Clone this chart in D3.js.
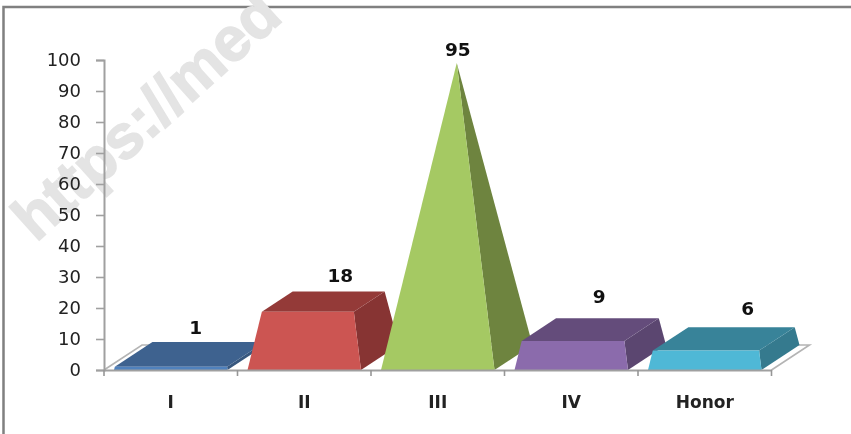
<!DOCTYPE html>
<html lang="en">
    <head>
        <meta charset="utf-8">
        <title>Grades</title>
        <script src="https://d3js.org/d3.v7.min.js"></script>
        <style>
            html, body { margin: 0; padding: 0; background: #fff; overflow: hidden; }
            svg { display: block; filter: blur(0.45px); }
            text { font-family: "DejaVu Sans", sans-serif; }
        </style>
    </head>
    <body>
        <script type="text/javascript">

            var categories = ["I", "II", "III", "IV", "Honor"];
            var values = [1, 18, 95, 9, 6];
            var yTicks = [0, 10, 20, 30, 40, 50, 60, 70, 80, 90, 100];

            var frontColors = ["#4f81bd", "#cc5552", "#a5c963", "#8b6bac", "#4fb8d6"];
            var topColors = ["#3e628f", "#943a38", "#a5c963", "#644c7b", "#388399"];
            var sideColors = ["#37577e", "#873433", "#6e843f", "#5b4670", "#357a8e"];

            // label nudges relative to the bar's centre / top
            var labelDx = [25, 36, 20, 28, 43];
            var labelDy = [-39, -39, -26, -46, -43];

            var width = 851, height = 434;
            var depthX = 38, depthY = -25;   // oblique projection of the floor depth
            var peak = d3.max(values);

            var svg = d3.select("body").append("svg")
                .attr("width", width)
                .attr("height", height);

            // frame, open on the right and at the bottom
            svg.append("path")
                .attr("d", "M3.5,434V7H851")
                .attr("fill", "none")
                .attr("stroke", "#808080")
                .attr("stroke-width", 2.5);

            var xScale = d3.scaleBand()
                .domain(categories)
                .range([104, 771.5])
                .paddingInner(0)
                .paddingOuter(0);

            var yScale = d3.scaleLinear()
                .domain([0, 100])
                .range([370, 60]);

            var barWidth = xScale.bandwidth() * 0.85;

            // floor
            var floorLeft = xScale.range()[0], floorRight = xScale.range()[1], floorY = yScale(0);
            svg.append("path")
                .attr("d", d3.line()([
                    [floorLeft, floorY],
                    [floorLeft + depthX, floorY + depthY],
                    [floorRight + depthX, floorY + depthY],
                    [floorRight, floorY]
                ]))
                .attr("fill", "none")
                .attr("stroke", "#b4b4b4")
                .attr("stroke-width", 1.6);

            // watermark goes under the marks
            svg.append("text")
                .attr("transform", "translate(36,243) rotate(-42)")
                .attr("font-size", 62)
                .attr("font-weight", "bold")
                .style("font-family", '"Liberation Sans", sans-serif')
                .attr("fill", "#e4e4e4")
                .attr("stroke", "#e4e4e4")
                .attr("stroke-width", 1.5)
                .text("https://med");

            // a bar is a pyramid to the largest value, cut off at its own value
            function project(cx, along, depth, v) {
                return [cx + along + depth * depthX, yScale(v) + depth * depthY];
            }

            var g = svg.append("g");

            categories.forEach(function(c, i) {
                var cx = xScale(c) + xScale.bandwidth() / 2;
                var v = values[i];
                var s = v / peak;
                var half = barWidth / 2, topHalf = half * (1 - s);
                var fb = [project(cx, -half, 0, 0), project(cx, half, 0, 0)];
                var bb = project(cx, half, 1, 0);
                var ft = [project(cx, -topHalf, s / 2, v), project(cx, topHalf, s / 2, v)];
                var bt = [project(cx, -topHalf, 1 - s / 2, v), project(cx, topHalf, 1 - s / 2, v)];

                g.append("path")
                    .attr("d", d3.line()([fb[1], bb, bt[1], ft[1]]) + "Z")
                    .attr("fill", sideColors[i]);
                g.append("path")
                    .attr("d", d3.line()([ft[0], ft[1], bt[1], bt[0]]) + "Z")
                    .attr("fill", topColors[i]);
                g.append("path")
                    .attr("d", d3.line()([fb[0], fb[1], ft[1], ft[0]]) + "Z")
                    .attr("fill", frontColors[i]);

                svg.append("text")
                    .attr("x", cx + labelDx[i])
                    .attr("y", yScale(v) + labelDy[i])
                    .attr("text-anchor", "middle")
                    .attr("dominant-baseline", "central")
                    .attr("font-size", 18.5)
                    .attr("font-weight", "bold")
                    .attr("fill", "#111")
                    .text(v);
            });

            // axes
            var yAxis = d3.axisLeft(yScale).tickValues(yTicks).tickSize(8).tickPadding(15);
            var yG = svg.append("g")
                .attr("transform", "translate(" + floorLeft + ",0)")
                .call(yAxis);

            var xAxis = d3.axisBottom(xScale).tickSize(0).tickPadding(26);
            var xG = svg.append("g")
                .attr("transform", "translate(0," + floorY + ")")
                .call(xAxis);

            xG.selectAll(".boundary")
                .data(d3.range(categories.length + 1))
                .enter().append("line")
                .attr("class", "boundary")
                .attr("x1", function(d) { return floorLeft + d * xScale.step(); })
                .attr("x2", function(d) { return floorLeft + d * xScale.step(); })
                .attr("y1", 0)
                .attr("y2", 6)
                .attr("stroke", "#969696")
                .attr("stroke-width", 1.6);

            svg.selectAll(".domain")
                .attr("stroke", "#a0a0a0")
                .attr("stroke-width", 2);
            yG.selectAll("line").attr("stroke", "#a0a0a0").attr("stroke-width", 1.6);
            yG.selectAll("text")
                .attr("font-size", 18)
                .attr("font-family", '"DejaVu Sans", sans-serif')
                .attr("fill", "#222");
            xG.selectAll(".tick text")
                .attr("font-size", 17)
                .attr("font-weight", "bold")
                .attr("font-family", '"DejaVu Sans", sans-serif')
                .attr("fill", "#222");

        </script>
    </body>
</html>
